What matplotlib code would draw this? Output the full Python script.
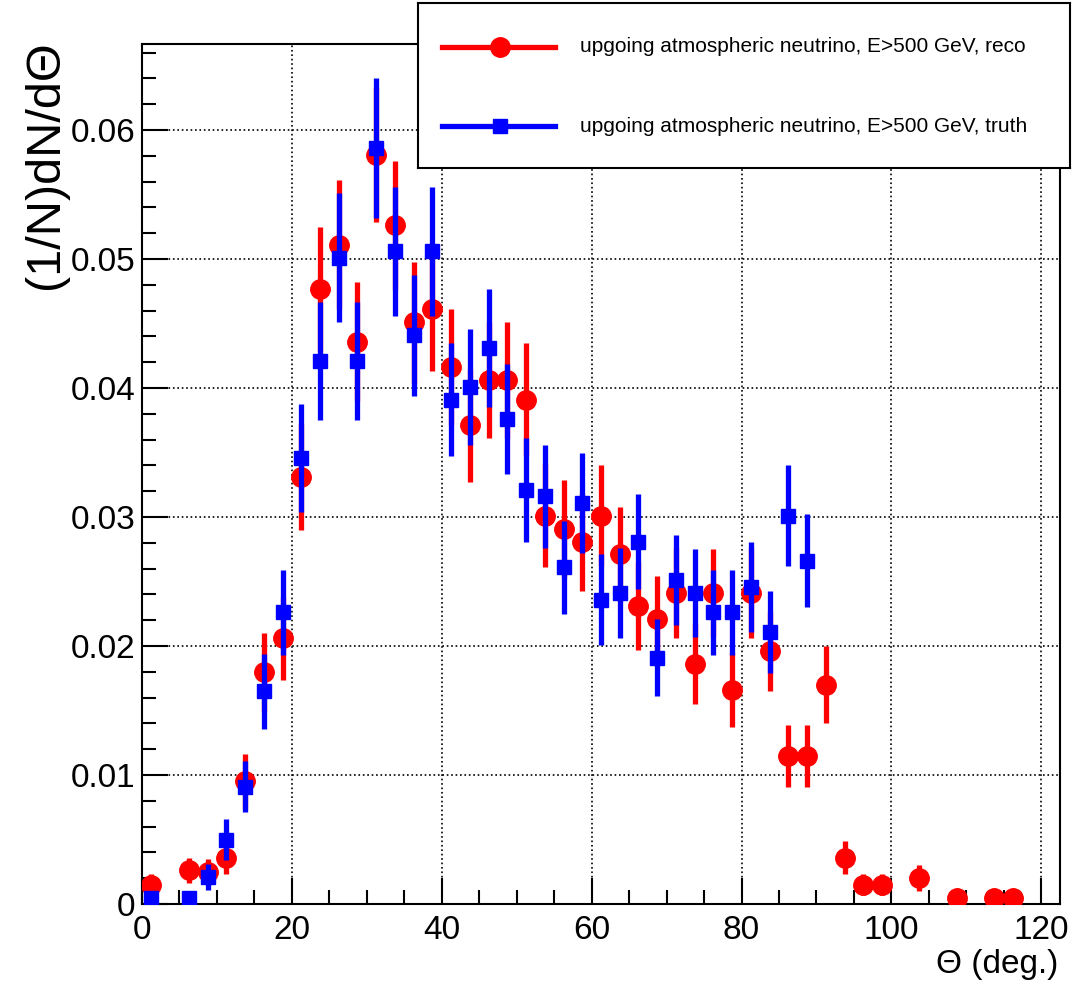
import matplotlib
matplotlib.use("Agg")
import matplotlib.pyplot as plt
from matplotlib.ticker import MultipleLocator, FuncFormatter
from matplotlib.lines import Line2D

plt.rcParams['font.family'] = ['Liberation Sans', 'DejaVu Sans']

# bin centres (deg.), bin width 2.5
reco_theta = [1.25, 6.25, 8.75, 11.25, 13.75, 16.25, 18.75, 21.25, 23.75, 26.25,
              28.75, 31.25, 33.75, 36.25, 38.75, 41.25, 43.75, 46.25, 48.75, 51.25,
              53.75, 56.25, 58.75, 61.25, 63.75, 66.25, 68.75, 71.25, 73.75, 76.25,
              78.75, 81.25, 83.75, 86.25, 88.75, 91.25, 93.75, 96.25, 98.75, 103.75,
              108.75, 113.75, 116.25]
reco_val = [0.0015, 0.0026, 0.0025, 0.0036, 0.0095, 0.0180, 0.0206, 0.0331, 0.0477, 0.0511,
            0.0436, 0.0581, 0.0526, 0.0451, 0.0461, 0.0416, 0.0371, 0.0406, 0.0406, 0.0391,
            0.0301, 0.0291, 0.0281, 0.0301, 0.0271, 0.0231, 0.0221, 0.0241, 0.0186, 0.0241,
            0.0166, 0.0241, 0.0196, 0.0115, 0.0115, 0.0170, 0.0036, 0.0015, 0.0015, 0.0020,
            0.0005, 0.0005, 0.0005]
reco_err = [0.0008, 0.0010, 0.0010, 0.0013, 0.0021, 0.0030, 0.0032, 0.0041, 0.0048, 0.0050,
            0.0046, 0.0052, 0.0050, 0.0047, 0.0048, 0.0045, 0.0044, 0.0045, 0.0045, 0.0044,
            0.0040, 0.0038, 0.0038, 0.0039, 0.0037, 0.0034, 0.0033, 0.0035, 0.0031, 0.0034,
            0.0029, 0.0035, 0.0031, 0.0024, 0.0024, 0.0030, 0.0013, 0.0008, 0.0008, 0.0010,
            0.0005, 0.0005, 0.0005]

truth_theta = [1.25, 6.25, 8.75, 11.25, 13.75, 16.25, 18.75, 21.25, 23.75, 26.25,
               28.75, 31.25, 33.75, 36.25, 38.75, 41.25, 43.75, 46.25, 48.75, 51.25,
               53.75, 56.25, 58.75, 61.25, 63.75, 66.25, 68.75, 71.25, 73.75, 76.25,
               78.75, 81.25, 83.75, 86.25, 88.75]
truth_val = [0.0005, 0.0005, 0.0021, 0.0050, 0.0091, 0.0165, 0.0226, 0.0346, 0.0421, 0.0501,
             0.0421, 0.0586, 0.0506, 0.0441, 0.0506, 0.0391, 0.0401, 0.0431, 0.0376, 0.0321,
             0.0316, 0.0261, 0.0311, 0.0236, 0.0241, 0.0281, 0.0191, 0.0251, 0.0241, 0.0226,
             0.0226, 0.0246, 0.0211, 0.0301, 0.0266]
truth_err = [0.0005, 0.0005, 0.0010, 0.0016, 0.0020, 0.0029, 0.0033, 0.0042, 0.0046, 0.0050,
             0.0046, 0.0054, 0.0050, 0.0047, 0.0050, 0.0044, 0.0045, 0.0046, 0.0043, 0.0040,
             0.0040, 0.0036, 0.0039, 0.0035, 0.0035, 0.0037, 0.0030, 0.0035, 0.0034, 0.0033,
             0.0033, 0.0035, 0.0032, 0.0039, 0.0036]

labels = ['upgoing atmospheric neutrino, E>500 GeV, reco',
          'upgoing atmospheric neutrino, E>500 GeV, truth']

W, H = 1087, 984
fig = plt.figure(figsize=(W / 100, H / 100), dpi=100)
ax = fig.add_axes([142 / W, 1 - 904 / H, 918 / W, 860 / H])

ax.errorbar(reco_theta, reco_val, yerr=reco_err, fmt='o', color='red',
            markersize=14, elinewidth=3.8, capsize=0, zorder=3)
ax.errorbar(truth_theta, truth_val, yerr=truth_err, fmt='s', color='blue',
            markersize=10, elinewidth=3.8, capsize=0, zorder=4)

ax.set_xlim(0, 122.5)
ax.set_ylim(0, 0.06667)
ax.xaxis.set_major_locator(MultipleLocator(20))
ax.xaxis.set_minor_locator(MultipleLocator(5))
ax.yaxis.set_major_locator(MultipleLocator(0.01))
ax.yaxis.set_minor_locator(MultipleLocator(0.002))
ax.yaxis.set_major_formatter(FuncFormatter(lambda v, p: '0' if abs(v) < 1e-9 else '%.2f' % v))
ax.xaxis.set_major_formatter(FuncFormatter(lambda v, p: '%d' % round(v)))
ax.tick_params(which='both', direction='in', width=1.5, labelsize=24)
ax.tick_params(which='major', length=19)
ax.tick_params(which='minor', length=10)
ax.tick_params(axis='x', pad=8)
ax.tick_params(axis='y', pad=5)
ax.grid(True, which='major', linestyle=':', color='black', linewidth=1.2)
ax.set_axisbelow(True)
for s in ax.spines.values():
    s.set_linewidth(1.5)

fig.text(0.042, 1 - 40 / H, '(1/N)dN/d\u0398', rotation=90, ha='center', va='top', fontsize=35)
fig.text(1058 / W, 1 - 965 / H, '\u0398 (deg.)', ha='right', va='center', fontsize=24)

# legend box
leg = fig.add_axes([418 / W, 1 - 168 / H, 652 / W, 165 / H])
leg.set_xlim(0, 652)
leg.set_ylim(0, 165)
leg.set_xticks([])
leg.set_yticks([])
for s in leg.spines.values():
    s.set_linewidth(1.5)
for yy, col, mk, ms, lab in [(121, 'red', 'o', 14, labels[0]), (42, 'blue', 's', 10, labels[1])]:
    leg.add_line(Line2D([24, 137], [yy, yy], color=col, linewidth=3.8))
    leg.add_line(Line2D([82], [yy], color=col, marker=mk, markersize=ms))
    leg.text(162, yy, lab, ha='left', va='center', fontsize=15)

fig.savefig('out.png', dpi=100)
